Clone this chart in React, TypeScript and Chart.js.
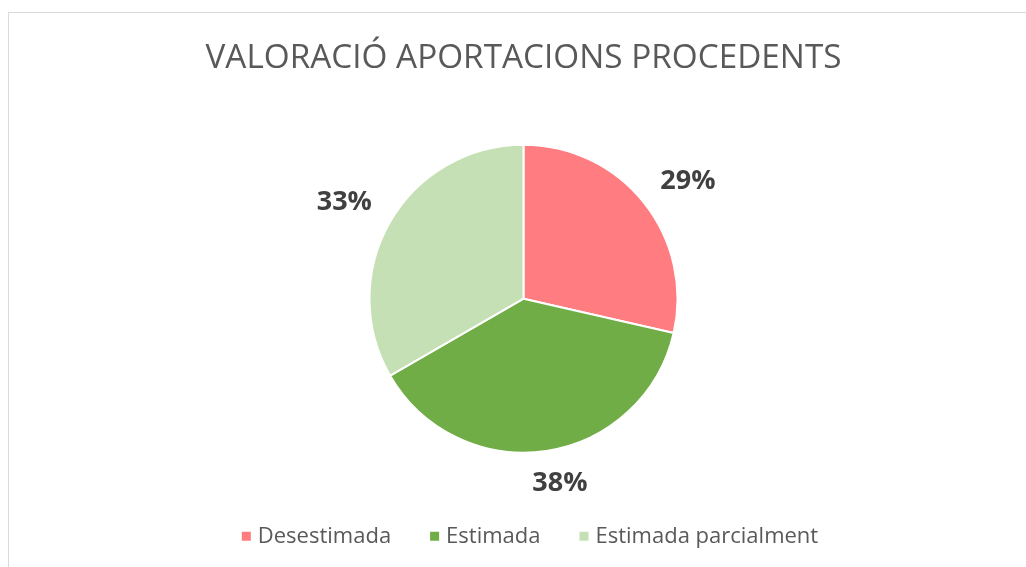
import React, { useEffect, useRef } from "react";
import { Chart, registerables } from "chart.js";

Chart.register(...registerables);

const titleText = "VALORACIÓ APORTACIONS PROCEDENTS";
const categories = ["Desestimada", "Estimada", "Estimada parcialment"];
const values = [6, 8, 7];
const colors = ["#FF7C80", "#70AD47", "#C5E0B4"];

const FONT = "'Open Sans', 'DejaVu Sans', sans-serif";

const clamp = (t: number) => Math.max(-1, Math.min(1, t));

const outsideLabels = {
  id: "outsideLabels",
  afterDatasetsDraw(chart: any) {
    const ctx = chart.ctx;
    const meta = chart.getDatasetMeta(0);
    const data = chart.data.datasets[0].data as number[];
    const total = data.reduce((a, b) => a + b, 0);
    ctx.save();
    ctx.font = `bold 27px ${FONT}`;
    ctx.fillStyle = "#404040";
    ctx.textAlign = "center";
    ctx.textBaseline = "middle";
    meta.data.forEach((arc: any, i: number) => {
      const { x, y, startAngle, endAngle, outerRadius } = arc.getProps(
        ["x", "y", "startAngle", "endAngle", "outerRadius"],
        true
      );
      const mid = (startAngle + endAngle) / 2;
      const c = Math.cos(mid);
      const s = Math.sin(mid);
      const text = Math.round((data[i] / total) * 100) + "%";
      const w = ctx.measureText(text).width;
      const h = 20;
      const a = outerRadius + 21;
      const lx = x + c * a + (clamp(c / 0.4) * w) / 2;
      const ly = y + s * a + (clamp(s / 0.4) * h) / 2;
      ctx.fillText(text, lx, ly + 1.5);
    });
    ctx.restore();
  },
};

const legendShift = {
  id: "legendShift",
  afterLayout(chart: any) {
    const lg = chart.legend;
    if (lg) {
      lg.left += 8.5;
      lg.right += 8.5;
    }
  },
};

export default function App() {
  const ref = useRef<HTMLCanvasElement | null>(null);
  useEffect(() => {
    if (!ref.current) return;
    const baseGen = (Chart as any).overrides.pie.plugins.legend.labels.generateLabels;
    const chart = new Chart(ref.current, {
      type: "pie",
      data: {
        labels: categories,
        datasets: [
          {
            data: values,
            backgroundColor: colors,
            borderColor: "#ffffff",
            borderWidth: 2,
            radius: 154,
          } as any,
        ],
      },
      options: {
        responsive: false,
        animation: false,
        layout: { padding: { top: 0, bottom: 23.7, left: 0, right: 0 } },
        plugins: {
          title: {
            display: true,
            text: titleText,
            color: "#595959",
            font: { family: FONT, size: 33.3, weight: "normal" },
            padding: { top: 26, bottom: 36.1 },
          },
          legend: {
            display: true,
            position: "bottom",
            labels: {
              usePointStyle: true,
              pointStyle: "rect",
              boxWidth: 1,
              boxHeight: 9,
              padding: 43,
              color: "#595959",
              font: { family: FONT, size: 22 },
              generateLabels: (c: any) =>
                baseGen(c).map((l: any) => ({
                  ...l,
                  lineWidth: 0,
                  strokeStyle: l.fillStyle,
                  pointStyle: "rect",
                })),
            },
          },
          tooltip: { enabled: false },
        },
      } as any,
      plugins: [outsideLabels, legendShift],
    });
    return () => chart.destroy();
  }, []);

  return (
    <div
      style={{
        position: "fixed",
        left: 8,
        top: 12,
        width: 1029,
        height: 568,
        border: "1px solid #d9d9d9",
        background: "#ffffff",
      }}
    >
      <canvas ref={ref} width={1029} height={568} style={{ display: "block" }} />
    </div>
  );
}
